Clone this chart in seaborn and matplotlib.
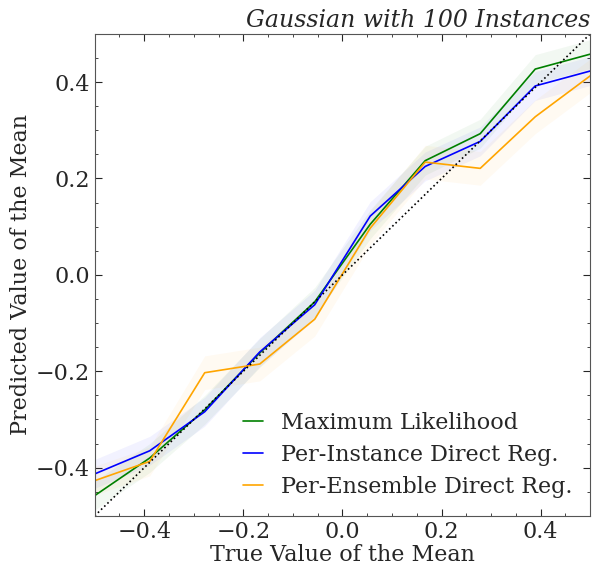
import numpy as np
import pandas as pd
import matplotlib
matplotlib.use("Agg")
import matplotlib.pyplot as plt
import seaborn as sns
from matplotlib.ticker import AutoMinorLocator

# true means (x axis)
true_mean = [-0.5, -0.389, -0.278, -0.167, -0.056, 0.056, 0.167, 0.278, 0.389, 0.5]

# predicted means
ml_pred = [-0.458, -0.38, -0.28, -0.162, -0.056, 0.105, 0.237, 0.293, 0.427, 0.458]
inst_pred = [-0.413, -0.365, -0.284, -0.160, -0.062, 0.122, 0.225, 0.277, 0.392, 0.423]
ens_pred = [-0.427, -0.387, -0.203, -0.185, -0.092, 0.097, 0.234, 0.221, 0.328, 0.413]

# spread of the faint bands (half width)
ml_err = [0.03, 0.03, 0.03, 0.03, 0.03, 0.03, 0.03, 0.03, 0.03, 0.03]
inst_err = [0.03, 0.03, 0.03, 0.03, 0.03, 0.03, 0.03, 0.03, 0.03, 0.03]
ens_err = [0.03, 0.03, 0.035, 0.035, 0.035, 0.035, 0.035, 0.035, 0.035, 0.035]

labels = ["Maximum Likelihood", "Per-Instance Direct Reg.", "Per-Ensemble Direct Reg."]
colors = ["green", "blue", "orange"]

sns.set_style("ticks")
plt.rcParams['font.family'] = ['DejaVu Serif']
plt.rcParams['mathtext.fontset'] = 'dejavuserif'

fig, ax = plt.subplots(figsize=(5.92, 5.65), dpi=100)

for pred, err, lab, col in zip([ml_pred, inst_pred, ens_pred],
                               [ml_err, inst_err, ens_err], labels, colors):
    df = pd.DataFrame({"x": true_mean, "y": pred})
    sns.lineplot(data=df, x="x", y="y", color=col, label=lab, lw=1.2, ax=ax)
    lo = np.array(pred) - np.array(err)
    hi = np.array(pred) + np.array(err)
    ax.fill_between(true_mean, lo, hi, color=col, alpha=0.05, lw=0)

ax.plot([-0.5, 0.5], [-0.5, 0.5], ls=":", color="black", lw=1.2)

ax.set_xlim(-0.5, 0.5)
ax.set_ylim(-0.5, 0.5)
ax.set_xticks([-0.4, -0.2, 0.0, 0.2, 0.4])
ax.set_yticks([-0.4, -0.2, 0.0, 0.2, 0.4])
ax.xaxis.set_minor_locator(AutoMinorLocator(4))
ax.yaxis.set_minor_locator(AutoMinorLocator(4))
ax.tick_params(which="both", direction="in", top=True, right=True, labelsize=16)
ax.tick_params(which="major", length=5)
ax.tick_params(which="minor", length=2.5)
for s in ax.spines.values():
    s.set_color("#555555")

ax.set_xlabel("True Value of the Mean", fontsize=16, labelpad=1)
ax.set_ylabel("Predicted Value of the Mean", fontsize=16, labelpad=3)
ax.set_title("Gaussian with 100 Instances", fontsize=17, style="italic", loc="right", pad=5)

ax.legend(loc="lower right", frameon=False, fontsize=16, handlelength=0.9,
          handletextpad=0.8, labelspacing=0.45, borderaxespad=0.4)

plt.subplots_adjust(left=0.16, right=0.997, top=0.94, bottom=0.087)
plt.savefig("out.png", dpi=100)
